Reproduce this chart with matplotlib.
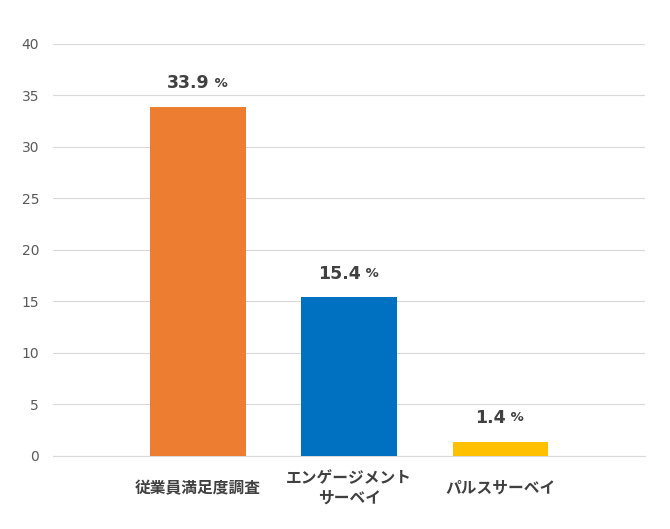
import matplotlib
matplotlib.use("Agg")
import matplotlib.pyplot as plt

# データ
categories = ["従業員満足度調査", "エンゲージメント\nサーベイ", "パルスサーベイ"]
values = [33.9, 15.4, 1.4]
colors = ["#ED7D31", "#0070C0", "#FFC000"]
yticks = [0, 5, 10, 15, 20, 25, 30, 35, 40]

plt.rcParams["font.family"] = ["Noto Sans CJK JP", "DejaVu Sans"]

fig = plt.figure(figsize=(6.7, 5.29), dpi=100)
ax = fig.add_axes([0.079, 0.138, 0.884, 0.779])

x = range(len(categories))
ax.bar(x, values, width=0.63, color=colors, zorder=3)

ax.set_xlim(-0.96, 2.96)
ax.set_ylim(0, 40)
ax.set_yticks(yticks)
ax.set_yticklabels([str(t) for t in yticks], fontfamily="DejaVu Sans",
                   fontsize=10, color="#595959")
ax.grid(axis="y", color="#D9D9D9", linewidth=0.8, zorder=0)
ax.tick_params(axis="y", length=0, pad=10)
ax.tick_params(axis="x", length=0, pad=23)

ax.set_xticks(list(x))
ax.set_xticklabels(categories, fontsize=11.3, fontweight="bold",
                   color="#404040", linespacing=1.2)
for lbl in ax.get_xticklabels():
    lbl.set_verticalalignment("center")

for s in ["top", "right", "left"]:
    ax.spines[s].set_visible(False)
ax.spines["bottom"].set_color("#D9D9D9")

# 値ラベル
for i, v in enumerate(values):
    t = ax.annotate(f"{v}", xy=(i, v), xytext=(-7, 17), textcoords="offset points",
                    ha="center", va="center", fontsize=12.5, fontweight="bold",
                    color="#404040", fontfamily="DejaVu Sans")
    ax.annotate(" %", xy=(1, 0.5), xycoords=t, ha="left", va="center",
                fontsize=9.5, fontweight="bold", color="#404040",
                fontfamily="DejaVu Sans")

fig.savefig("out.png", dpi=100)
